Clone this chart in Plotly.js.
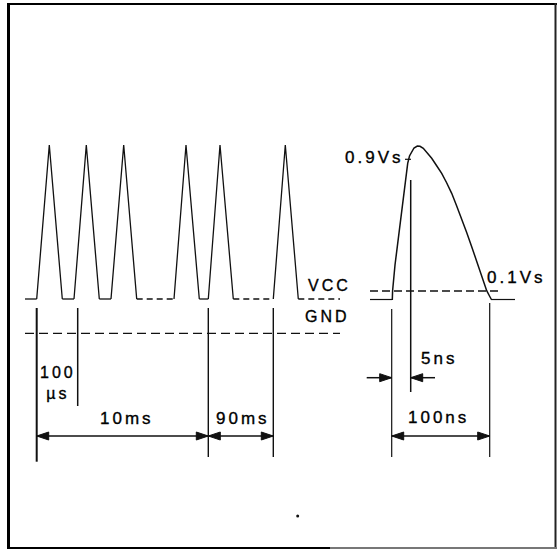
<!DOCTYPE html>
<html>
<head>
<meta charset="utf-8">
<script src="https://cdn.plot.ly/plotly-3.0.1.min.js"></script>
<style>
html,body{margin:0;padding:0;background:#fff;}
#chart{width:560px;height:551px;}
.annotation-text{letter-spacing:3px;stroke:#000;stroke-width:0.35px;}
</style>
</head>
<body>
<div id="chart"></div>
<script>
// ---- Diagram data (diagram units) ----
// Left pulse train: start, peak and end of each 100 µs pulse
const pulseStart = [36.7, 74, 111, 174, 208.3, 273.3];
const pulsePeak  = [49.3, 86.3, 123.7, 186, 220, 285.3];
const pulseEnd   = [62.3, 99.3, 136.7, 199.3, 233.3, 298.3];
const pulseLow = 299;
const pulseHigh = 145;
// baseline gaps drawn solid / dashed
const solidGaps  = [[25, 36.7], [62.3, 74], [99.3, 111], [199.3, 208.3]];
const dashedGaps = [[136.7, 174], [233.3, 273.3], [298.3, 340]];
const gndLevel = 333.3;
const gndSpan = [25, 340];

// Single pulse (right): rise and fall curve
const curveX = [392.3, 392.6, 395, 398.3, 401, 403.3, 405.5, 407.7, 409.5, 411.7, 414, 417.3, 420, 423.3, 427, 431.7, 436.5, 441.7, 446.5, 451.7, 456.5, 461.7, 466.5, 471.7, 476.5, 481.7, 486.7, 489.5, 491.7];
const curveY = [300, 290.7, 265, 240, 218, 200, 180, 163.3, 156, 151.7, 148, 146, 146.3, 148.3, 152.5, 158.3, 165.5, 173.3, 182.5, 193.3, 205.5, 218.3, 232, 246.7, 261.5, 276.7, 290.7, 296, 300];
const vccRightLevel = 291;
const vccRightSpan = [370, 500];
const baseStubs = [[370, 392.3], [491.7, 515]];
const tick09 = {x: [405, 411], y: 159.3};

// Dimension lines (vertical extension lines)
const extLines = [
  {x: 36.7,  y0: 308, y1: 461.7, w: 2},
  {x: 77.7,  y0: 308, y1: 406,   w: 1.5},
  {x: 208.3, y0: 308, y1: 457,   w: 1.4},
  {x: 273.3, y0: 308, y1: 457,   w: 1.4},
  {x: 391.7, y0: 309, y1: 457,   w: 1.2},
  {x: 410.7, y0: 180, y1: 392,   w: 1.5},
  {x: 489.7, y0: 303, y1: 457,   w: 1.2}
];
// Double-headed dimension arrows
const dimArrows = [
  {x0: 36.7, x1: 208.3, y: 436},
  {x0: 208.3, x1: 273.3, y: 436},
  {x0: 391.7, x1: 489.7, y: 436}
];
// Single-headed arrows (tail -> tip)
const oneArrows = [
  {from: 366.7, to: 391.7, y: 377.7},
  {from: 435, to: 410.7, y: 377.7}
];
// Labels
const labels = [
  {t: '0.9Vs', x: 405, y: 157, xa: 'right', s: 17},
  {t: 'VCC',   x: 329, y: 285, xa: 'center', s: 16},
  {t: 'GND',   x: 327, y: 316, xa: 'center', s: 16},
  {t: '0.1Vs', x: 516, y: 277, xa: 'center', s: 17},
  {t: '100<br>µs', x: 58, y: 383, xa: 'center', s: 16},
  {t: '10ms',  x: 127, y: 418, xa: 'center', s: 17},
  {t: '90ms',  x: 243, y: 418, xa: 'center', s: 17},
  {t: '5ns',   x: 439, y: 358, xa: 'center', s: 17},
  {t: '100ns', x: 438, y: 417, xa: 'center', s: 17}
];

// ---- Build traces ----
const ink = '#111';
const traces = [];
function seg(xs, ys, w, dash) {
  traces.push({type: 'scatter', mode: 'lines', x: xs, y: ys,
    line: {color: ink, width: w, dash: dash || 'solid'}, hoverinfo: 'skip'});
}
// pulses + solid gaps
{
  const xs = [], ys = [];
  pulseStart.forEach((s, i) => {
    xs.push(s, pulsePeak[i], pulseEnd[i], null);
    ys.push(pulseLow, pulseHigh, pulseLow, null);
  });
  solidGaps.forEach(g => { xs.push(g[0], g[1], null); ys.push(pulseLow, pulseLow, null); });
  seg(xs, ys, 1.3);
}
// dashed gaps
{
  const xs = [], ys = [];
  dashedGaps.forEach(g => { xs.push(g[0], g[1], null); ys.push(pulseLow, pulseLow, null); });
  seg(xs, ys, 1.3, '6px,4px');
}
// GND
seg(gndSpan, [gndLevel, gndLevel], 1.3, '9px,5px');
// right curve
seg(curveX, curveY, 1.5);
seg(vccRightSpan, [vccRightLevel, vccRightLevel], 1.3, '8px,4px');
{
  const xs = [], ys = [];
  baseStubs.forEach(g => { xs.push(g[0], g[1], null); ys.push(pulseLow + 0.5, pulseLow + 0.5, null); });
  seg(xs, ys, 1.2);
}
seg(tick09.x, [tick09.y, tick09.y], 1.2);
// extension lines
extLines.forEach(l => seg([l.x, l.x], [l.y0, l.y1], l.w));
// arrows
const headLen = 12, headHalf = 4;
const heads = {x: [], y: []};
function head(tipX, dir, y) { // dir: +1 pointing right, -1 pointing left
  heads.x.push(tipX, tipX - dir * headLen, tipX - dir * headLen, tipX, null);
  heads.y.push(y, y - headHalf, y + headHalf, y, null);
}
dimArrows.forEach(a => {
  seg([a.x0, a.x1], [a.y, a.y], 1.5);
  head(a.x0, -1, a.y);
  head(a.x1, 1, a.y);
});
oneArrows.forEach(a => {
  seg([a.from, a.to], [a.y, a.y], 1.5);
  head(a.to, a.to > a.from ? 1 : -1, a.y);
});
traces.push({type: 'scatter', mode: 'lines', x: heads.x, y: heads.y, fill: 'toself',
  fillcolor: ink, line: {color: ink, width: 1}, hoverinfo: 'skip'});
// stray dot
traces.push({type: 'scatter', mode: 'markers', x: [297.7], y: [516],
  marker: {color: ink, size: 3}, hoverinfo: 'skip'});

const annotations = labels.map(l => ({
  text: l.t, x: l.x, y: l.y, xref: 'x', yref: 'y', showarrow: false,
  xanchor: l.xa, yanchor: 'middle',
  font: {family: 'Liberation Sans, Arial, sans-serif', size: l.s, color: '#000'}
}));

const shapes = [
  {type: 'line', x0: 8.5, x1: 8.5, y0: 3, y1: 549, line: {color: '#000', width: 3}},
  {type: 'line', x0: 7, x1: 557, y0: 4, y1: 4, line: {color: '#000', width: 2}},
  {type: 'line', x0: 555.5, x1: 555.5, y0: 3, y1: 549, line: {color: '#222', width: 2}},
  {type: 'line', x0: 7, x1: 330, y0: 548, y1: 548, line: {color: '#000', width: 2}},
  {type: 'line', x0: 330, x1: 557, y0: 548, y1: 548, line: {color: '#777', width: 2}}
];

const layout = {
  width: 560, height: 551,
  margin: {l: 0, r: 0, t: 0, b: 0, pad: 0},
  paper_bgcolor: '#fff', plot_bgcolor: '#fff',
  showlegend: false,
  xaxis: {range: [0, 560], visible: false, fixedrange: true},
  yaxis: {range: [551, 0], visible: false, fixedrange: true},
  annotations: annotations,
  shapes: shapes
};
Plotly.newPlot('chart', traces, layout, {displayModeBar: false, staticPlot: true});
</script>
</body>
</html>
